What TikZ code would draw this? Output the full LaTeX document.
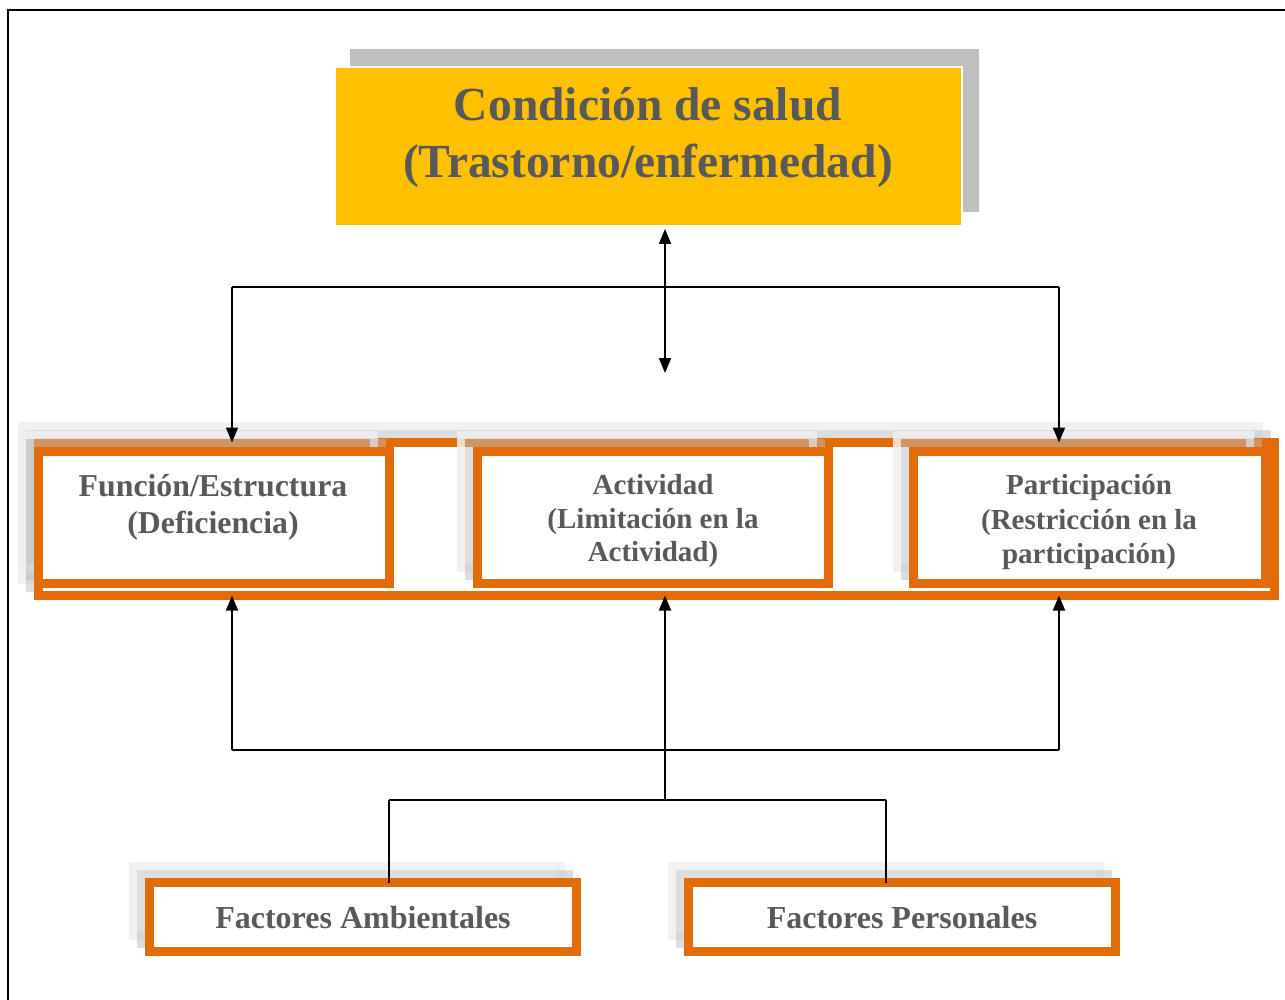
\documentclass[tikz,border=0pt]{standalone}
\usepackage{fontspec}
\setmainfont{Liberation Serif}
\usetikzlibrary{arrows.meta}
\definecolor{ocf}{HTML}{E36C0A}
\definecolor{ylw}{HTML}{FFC000}
\definecolor{txt}{HTML}{595959}
\definecolor{shl}{HTML}{EFEFEF}
\definecolor{shm}{HTML}{BDBDBD}
\definecolor{shd}{HTML}{BFBFBF}
\tikzset{
  obox/.style={draw=ocf, line width=9pt, fill=white, inner sep=0pt, outer sep=0pt, rectangle},
  lbl/.style={text=txt, align=center, inner sep=0pt},
  conn/.style={line width=1.8pt, black},
  tip/.tip={Triangle[length=15pt,width=12pt]},
  arr/.style={conn, -tip},
  shadowlight/.style={draw=shl, line width=8pt},
  shadowmid/.style={draw=shm, line width=8pt},
}
\newcommand\ocbox[5]{%
  \draw[shadowlight, opacity=.85] (#2-16+4,#3-16+4) rectangle (#4-16-4,#5-16-4);
  \draw[shadowmid, opacity=.5] (#2-8+4,#3-8+4) rectangle (#4-8-4,#5-8-4);
  \node[obox, minimum width={#4-#2-9}, minimum height={#5-#3-9}] (#1) at ({(#2+#4)/2},{(#3+#5)/2}) {};
}
\begin{document}
\begin{tikzpicture}[x=1pt, y=-1pt]
\useasboundingbox (0,0) rectangle (1285,1000);
\fill[white] (0,0) rectangle (1285,1000);
% outer frame
\draw[line width=1.6pt] (8,1000) -- (8,10) -- (1285,10);
% top box
\fill[shd] (350,49) rectangle (979,212);
\node[fill=ylw, draw=white, line width=2pt, inner sep=0pt, outer sep=0pt, minimum width=627pt, minimum height=159pt] (cond) at (648.5,146.5) {};
\node[lbl, font=\bfseries\fontsize{47.5}{57}\selectfont] (condt) at (648,138) {Condición de salud\\(Trastorno/enfermedad)};
% group frame and boxes
\ocbox{grp}{34}{438}{1279}{600}
\ocbox{func}{34}{447}{394}{588}
\ocbox{act}{473}{447}{833}{588}
\ocbox{part}{909}{447}{1270}{588}
\node[lbl, font=\bfseries\fontsize{31.8}{37}\selectfont] (funct) at (213,507) {Función/Estructura\\(Deficiencia)};
\node[lbl, font=\bfseries\fontsize{29}{33.5}\selectfont] (actt) at (653,521.5) {Actividad\\(Limitación en la\\Actividad)};
\node[lbl, font=\bfseries\fontsize{29}{34.5}\selectfont] (partt) at (1089,522.5) {Participación\\(Restricción en la\\participación)};
% bottom boxes
\ocbox{amb}{145}{878}{581}{956}
\ocbox{per}{684}{878}{1120}{956}
\node[lbl, font=\bfseries\fontsize{32}{37}\selectfont] (ambt) at (363,918) {Factores Ambientales};
\node[lbl, font=\bfseries\fontsize{32}{37}\selectfont] (pert) at (902,918) {Factores Personales};
% top connectors
\coordinate (mid) at (665,373);
\coordinate (tl) at (232,287);
\coordinate (tr) at (1059,287);
\draw[conn, tip-tip, shorten <=3pt] (cond.south -| mid) -- (mid);
\draw[conn] (tl) -- (tr);
\draw[arr] (tl) -- (tl |- grp.north);
\draw[arr] (tr) -- (tr |- grp.north);
% bottom connectors
\coordinate (bl) at (232,750);
\coordinate (br) at (1059,750);
\coordinate (jn) at (665,800);
\coordinate (ja) at (389,800);
\coordinate (jp) at (886,800);
\draw[conn] (bl) -- (br);
\draw[arr] (bl) -- (bl |- grp.south);
\draw[arr] (br) -- (br |- grp.south);
\draw[arr] (jn) -- (jn |- grp.south);
\draw[conn] (ja) -- (jp);
\draw[conn] (ja) -- (ja |- amb.north);
\draw[conn] (jp) -- (jp |- per.north);
\end{tikzpicture}
\end{document}
